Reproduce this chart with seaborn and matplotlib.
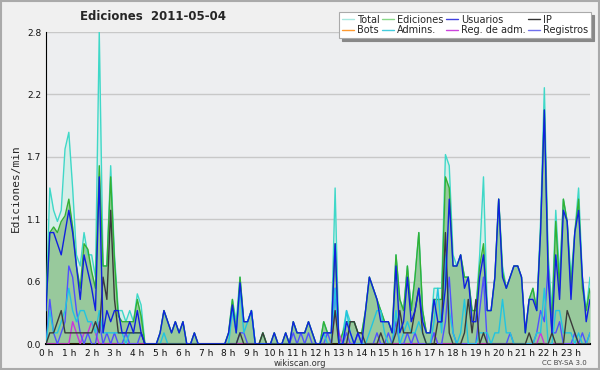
import seaborn as sns
import matplotlib.pyplot as plt
import matplotlib.patches as mpatches
import pandas as pd
import numpy as np

# datos: ediciones por minuto, intervalos de 10 min (144 puntos)
total = [0.3, 1.4, 1.2, 1.1, 1.2, 1.75, 1.9, 1.4, 0.8, 0.7, 1.0, 0.8,
         0.8, 0.6, 2.8, 0.7, 0.7, 1.6, 0.8, 0.3, 0.3, 0.2, 0.3, 0.2,
         0.45, 0.35, 0, 0, 0, 0, 0.1, 0.3, 0.2, 0.1, 0.2, 0.1,
         0.2, 0, 0, 0.1, 0, 0, 0, 0, 0, 0, 0, 0,
         0.1, 0.4, 0.2, 0.6, 0.2, 0.2, 0.3, 0, 0, 0.1, 0, 0,
         0.1, 0, 0, 0.1, 0, 0.2, 0.1, 0.1, 0.1, 0.2, 0.1, 0,
         0, 0.2, 0.1, 0.1, 1.4, 0, 0.1, 0.3, 0.2, 0.2, 0.1, 0.1,
         0.3, 0.6, 0.5, 0.4, 0.3, 0.2, 0.2, 0.1, 0.8, 0.4, 0.3, 0.7,
         0.3, 0.6, 1.0, 0.3, 0.1, 0.1, 0.5, 0.5, 0.5, 1.7, 1.6, 0.8,
         0.7, 0.8, 0.6, 0.6, 0.3, 0.3, 0.8, 1.5, 0.3, 0.3, 0.6, 1.3,
         0.7, 0.5, 0.6, 0.7, 0.7, 0.6, 0.1, 0.4, 0.5, 0.3, 1.1, 2.3,
         0.8, 0.3, 1.2, 0.6, 1.3, 1.1, 0.6, 1.0, 1.4, 0.6, 0.3, 0.6]
ediciones = [0.3, 1.0, 1.05, 1.0, 1.1, 1.15, 1.3, 1.05, 0.7, 0.5, 0.9, 0.85,
             0.65, 0.5, 1.6, 0.7, 0.7, 1.5, 0.75, 0.25, 0.2, 0.2, 0.2, 0.2,
             0.4, 0.25, 0, 0, 0, 0, 0.1, 0.3, 0.2, 0.1, 0.2, 0.1,
             0.2, 0, 0, 0.1, 0, 0, 0, 0, 0, 0, 0, 0,
             0.1, 0.4, 0.1, 0.6, 0.2, 0.2, 0.3, 0, 0, 0.1, 0, 0,
             0.1, 0, 0, 0.1, 0, 0.2, 0.1, 0.1, 0.1, 0.2, 0.1, 0,
             0, 0.2, 0.1, 0.1, 0.9, 0, 0.1, 0.2, 0.2, 0.2, 0.1, 0.1,
             0.3, 0.6, 0.5, 0.4, 0.3, 0.2, 0.2, 0.1, 0.8, 0.4, 0.3, 0.7,
             0.3, 0.6, 1.0, 0.3, 0.1, 0.1, 0.4, 0.4, 0.4, 1.5, 1.4, 0.7,
             0.7, 0.8, 0.6, 0.6, 0.3, 0.3, 0.7, 0.9, 0.3, 0.3, 0.6, 1.3,
             0.65, 0.5, 0.6, 0.7, 0.7, 0.6, 0.1, 0.4, 0.5, 0.3, 1.0, 2.1,
             0.7, 0.2, 1.1, 0.5, 1.3, 1.1, 0.5, 1.0, 1.3, 0.5, 0.3, 0.5]
usuarios = [0.3, 1.0, 1.0, 0.9, 0.8, 1.0, 1.2, 1.0, 0.7, 0.4, 0.8, 0.65,
            0.5, 0.3, 1.5, 0.1, 0.3, 0.2, 0.3, 0.3, 0.1, 0.1, 0.2, 0.1,
            0.3, 0.1, 0, 0, 0, 0, 0.1, 0.3, 0.2, 0.1, 0.2, 0.1,
            0.2, 0, 0, 0.1, 0, 0, 0, 0, 0, 0, 0, 0,
            0.1, 0.35, 0.1, 0.55, 0.2, 0.2, 0.3, 0, 0, 0, 0, 0,
            0.1, 0, 0, 0.1, 0, 0.2, 0.1, 0.1, 0.1, 0.2, 0.1, 0,
            0, 0.1, 0.1, 0.1, 0.9, 0, 0, 0.2, 0.1, 0, 0.1, 0,
            0.3, 0.6, 0.5, 0.4, 0.2, 0.2, 0.2, 0.1, 0.7, 0.1, 0.2, 0.6,
            0.2, 0.3, 0.5, 0.2, 0.1, 0.1, 0.4, 0.2, 0.2, 0.5, 1.3, 0.7,
            0.7, 0.8, 0.5, 0.6, 0.2, 0.2, 0.6, 0.8, 0.3, 0.3, 0.6, 1.3,
            0.6, 0.5, 0.6, 0.7, 0.7, 0.6, 0.1, 0.4, 0.4, 0.3, 1.0, 2.1,
            0.6, 0.1, 0.8, 0.4, 1.2, 1.1, 0.4, 1.0, 1.2, 0.6, 0.2, 0.4]
ip = [0, 0.1, 0.1, 0.2, 0.3, 0.1, 0.1, 0.1, 0.1, 0.1, 0.1, 0.1,
      0.1, 0.2, 0.1, 0.6, 0.4, 1.2, 0.4, 0.1, 0.1, 0.1, 0.1, 0.1,
      0.1, 0.1, 0, 0, 0, 0, 0, 0, 0, 0, 0, 0,
      0, 0, 0, 0, 0, 0, 0, 0, 0, 0, 0, 0,
      0, 0, 0, 0.1, 0, 0, 0, 0, 0, 0.1, 0, 0,
      0, 0, 0, 0, 0, 0, 0, 0, 0, 0, 0, 0,
      0, 0, 0, 0, 0.3, 0, 0, 0, 0.2, 0.2, 0.1, 0.1,
      0, 0, 0, 0, 0.1, 0, 0, 0, 0.1, 0.3, 0.1, 0.1,
      0.1, 0.3, 0.5, 0.1, 0, 0, 0, 0.2, 0.2, 1.0, 0.1, 0,
      0, 0, 0.1, 0.4, 0.1, 0.4, 0, 0.1, 0, 0, 0, 0,
      0, 0, 0, 0, 0, 0, 0, 0.1, 0, 0, 0, 0,
      0, 0.1, 0, 0, 0, 0.3, 0.2, 0.1, 0, 0, 0, 0]
admins = [0, 0.3, 0.1, 0.1, 0.2, 0.3, 0.5, 0.3, 0.2, 0.3, 0.3, 0.2,
          0.2, 0.1, 0.3, 0.1, 0.1, 0.1, 0.1, 0.1, 0.1, 0, 0.1, 0.1,
          0.1, 0.1, 0, 0, 0, 0, 0, 0.1, 0, 0, 0, 0,
          0, 0, 0, 0, 0, 0, 0, 0, 0, 0, 0, 0,
          0, 0.3, 0.1, 0.5, 0.1, 0.2, 0.3, 0, 0, 0, 0, 0,
          0, 0, 0, 0, 0, 0, 0, 0, 0, 0, 0, 0,
          0, 0.1, 0, 0, 0.5, 0, 0, 0.3, 0.1, 0, 0, 0,
          0, 0.1, 0.2, 0.3, 0.3, 0.1, 0, 0, 0.3, 0, 0.1, 0.2,
          0.1, 0.1, 0.2, 0.1, 0, 0, 0.2, 0.5, 0.1, 0.8, 0.3, 0.1,
          0, 0.1, 0.4, 0, 0, 0, 0.1, 0.1, 0.1, 0, 0.1, 0.1,
          0.4, 0.1, 0.1, 0, 0, 0, 0, 0, 0, 0.1, 0.1, 0.5,
          0, 0, 0.3, 0.3, 0.1, 0.1, 0.1, 0, 0.1, 0, 0, 0.1]
registros = [0, 0.4, 0.1, 0, 0.1, 0.2, 0.7, 0.6, 0.3, 0.1, 0, 0.1,
             0, 0, 0.2, 0, 0.1, 0, 0.1, 0, 0, 0.1, 0, 0,
             0, 0.1, 0, 0, 0, 0, 0, 0, 0, 0, 0, 0,
             0, 0, 0, 0, 0, 0, 0, 0, 0, 0, 0, 0,
             0, 0, 0, 0.1, 0.1, 0, 0, 0, 0, 0, 0, 0,
             0, 0, 0, 0, 0, 0.1, 0, 0.1, 0, 0.1, 0, 0,
             0, 0, 0.1, 0, 0.5, 0, 0, 0.1, 0, 0, 0.1, 0,
             0, 0, 0, 0.1, 0, 0, 0.1, 0, 0.2, 0, 0, 0.1,
             0, 0.1, 0, 0, 0, 0, 0.1, 0, 0, 0.2, 0.6, 0.1,
             0, 0, 0, 0, 0, 0, 0.3, 0.6, 0, 0, 0, 0,
             0, 0, 0.1, 0, 0, 0, 0, 0, 0, 0.1, 0.3, 0.2,
             0.7, 0.1, 0.1, 0.2, 0, 0, 0, 0.1, 0, 0.1, 0, 0.1]
reg_adm = [0, 0, 0, 0, 0, 0, 0, 0.2, 0.1, 0, 0.1, 0.1,
           0.2, 0.1, 0, 0, 0, 0, 0, 0, 0, 0, 0, 0] + [0] * 52 + \
          [0.3, 0.1] + [0] * 24 + [0.1] + [0] * 27 + [0.1] + [0] * 13
bots = [0] * 144

hour_labels = [f"{h} h" for h in range(24)]
y_ticks = [0, 0.56, 1.12, 1.68, 2.24, 2.8]
y_labels = ["0.0", "0.6", "1.1", "1.7", "2.2", "2.8"]

series = {
    "Total": total, "Ediciones": ediciones, "Usuarios": usuarios, "IP": ip,
    "Bots": bots, "Admins.": admins, "Reg. de adm.": reg_adm, "Registros": registros,
}
colors = {
    "Total": "#3fd8c8", "Ediciones": "#33b033", "Usuarios": "#1020e0", "IP": "#3a3a3a",
    "Bots": "#ff9a30", "Admins.": "#22c4e0", "Reg. de adm.": "#cc33dd", "Registros": "#5050ff",
}
legend_colors = {
    "Total": "#a8e8e0", "Ediciones": "#88d888", "Usuarios": "#4040e0", "IP": "#333333",
    "Bots": "#ff9a30", "Admins.": "#44ccdd", "Reg. de adm.": "#cc44dd", "Registros": "#7070ee",
}

df = pd.DataFrame({k: v for k, v in series.items()})
df["t"] = np.arange(len(total))
long = df.melt(id_vars="t", var_name="serie", value_name="val")

sns.set_style("white")
fig = plt.figure(figsize=(6, 3.7), dpi=100, facecolor="#f0f0f0")
ax = fig.add_axes([46 / 600, 26 / 370, 544 / 600, 312 / 370])
ax.set_facecolor("#edeef0")

ax.fill_between(df["t"], df["Total"], color="#d5eee8", lw=0, zorder=1)
ax.fill_between(df["t"], df["Ediciones"], color="#98c99c", lw=0, zorder=2)

order = ["Total", "Ediciones", "Bots", "Reg. de adm.", "Registros", "Admins.", "IP", "Usuarios"]
for name in order:
    sns.lineplot(data=long[long["serie"] == name], x="t", y="val", color=colors[name],
                 lw=1.0, ax=ax, zorder=3, legend=False)

ax.set_xlim(0, 143)
ax.set_ylim(0, 2.8)
ax.set_xticks(np.arange(0, 144, 6))
ax.set_xticklabels(hour_labels, fontsize=6.5)
ax.set_xticks(np.arange(0, 144, 1), minor=True)
ax.set_yticks(y_ticks)
ax.set_yticklabels(y_labels, fontsize=6.5)
ax.set_yticks(np.arange(0.28, 2.8, 0.56), minor=True)
ax.tick_params(axis="both", which="major", length=3, width=1, direction="out", pad=0.5, colors="#111")
ax.tick_params(axis="x", which="minor", length=3, width=0.8, direction="out")
ax.tick_params(axis="y", which="minor", length=3, width=0.8, direction="out")
ax.grid(axis="y", color="#c8c8c8", lw=1)
ax.set_axisbelow(True)
for s in ["top", "right"]:
    ax.spines[s].set_visible(False)
ax.spines["left"].set_color("#000")
ax.spines["bottom"].set_color("#000")
ax.spines["bottom"].set_linewidth(1.5)
ax.set_xlabel("")
ax.set_ylabel("Ediciones/min", fontsize=8, family="DejaVu Sans Mono", labelpad=4)

fig.text(0.255, 0.955, "Ediciones  2011-05-04", fontsize=8.5, fontweight="bold", ha="center", va="center")
fig.text(0.5, 0.018, "wikiscan.org", fontsize=6, ha="center", va="center", color="#333")
fig.text(0.978, 0.018, "CC BY-SA 3.0", fontsize=5, ha="right", va="center", color="#444")

handles = []
for name in ["Total", "Bots", "Ediciones", "Admins.", "Usuarios", "Reg. de adm.", "IP", "Registros"]:
    handles.append(plt.Line2D([], [], color=legend_colors[name], lw=1, label=name))
leg = fig.legend(handles=handles, ncol=4, loc="upper right", bbox_to_anchor=(0.985, 0.968),
                 fontsize=7, frameon=True, fancybox=False, shadow={"color": "#888888", "alpha": 1},
                 handlelength=1.2, handletextpad=0.3, columnspacing=0.3, labelspacing=0.05,
                 borderpad=0.3, borderaxespad=0)
leg.get_frame().set_edgecolor("#aaaaaa")
leg.get_frame().set_linewidth(0.8)

fig.patches.append(mpatches.Rectangle((0.002, 0.003), 0.996, 0.994, transform=fig.transFigure,
                                      fill=False, edgecolor="#aaaaaa", lw=1.5))

fig.savefig("out.png", dpi=100, facecolor=fig.get_facecolor())
